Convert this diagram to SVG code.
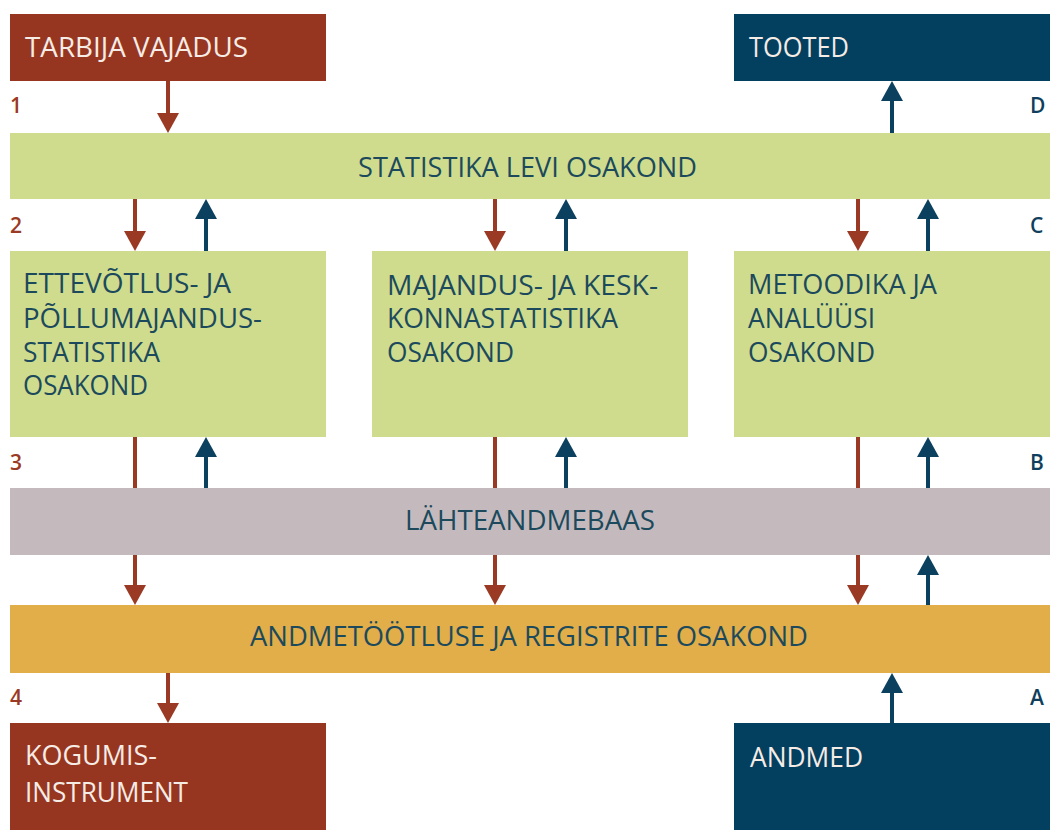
<svg xmlns="http://www.w3.org/2000/svg" width="1050" height="830" viewBox="0 0 1050 830">
<defs>
<style>
.t{font-family:"Open Sans","Liberation Sans",sans-serif;font-size:27px}
.w{fill:#f6ece6}
.d{fill:#1c4a5c}
.num{font-family:"Open Sans","Liberation Sans",sans-serif;font-size:21px;font-weight:600}
.nr{fill:#9a3a24}
.nb{fill:#0f3f5c}
.red{stroke:#9a3a24;stroke-width:4;fill:none}
.blue{stroke:#0c405f;stroke-width:4;fill:none}
</style>
<marker id="ahR" viewBox="0 0 20 22" refX="10" refY="11" markerWidth="20" markerHeight="22" markerUnits="userSpaceOnUse" orient="auto">
<path d="M0,0 L20,11 L0,22 z" fill="#9a3a24"/>
</marker>
<marker id="ahB" viewBox="0 0 20 22" refX="10" refY="11" markerWidth="20" markerHeight="22" markerUnits="userSpaceOnUse" orient="auto">
<path d="M0,0 L20,11 L0,22 z" fill="#0c405f"/>
</marker>
</defs>
<rect width="1050" height="830" fill="#ffffff"/>

<g id="tarbija">
<rect x="10" y="14" width="316" height="67" fill="#973620"/>
<text class="t w" x="25" y="57" textLength="223" lengthAdjust="spacingAndGlyphs">TARBIJA VAJADUS</text>
</g>
<g id="tooted">
<rect x="734" y="14" width="316" height="67" fill="#033f5e"/>
<text class="t w" x="749" y="57" textLength="100" lengthAdjust="spacingAndGlyphs">TOOTED</text>
</g>
<g id="levi">
<rect x="10" y="133" width="1040" height="66" fill="#cfdc8d"/>
<text class="t d" x="358" y="177" textLength="339" lengthAdjust="spacingAndGlyphs">STATISTIKA LEVI OSAKOND</text>
</g>
<g id="ettevotlus">
<rect x="10" y="251" width="316" height="186" fill="#cfdc8d"/>
<text class="t d" x="23" y="293" textLength="208" lengthAdjust="spacingAndGlyphs">ETTEVÕTLUS- JA</text>
<text class="t d" x="23" y="328" textLength="239" lengthAdjust="spacingAndGlyphs">PÕLLUMAJANDUS-</text>
<text class="t d" x="23" y="362" textLength="137" lengthAdjust="spacingAndGlyphs">STATISTIKA</text>
<text class="t d" x="23" y="395" textLength="125" lengthAdjust="spacingAndGlyphs">OSAKOND</text>
</g>
<g id="majandus">
<rect x="372" y="251" width="316" height="186" fill="#cfdc8d"/>
<text class="t d" x="387" y="295" textLength="271" lengthAdjust="spacingAndGlyphs">MAJANDUS- JA KESK-</text>
<text class="t d" x="387" y="328" textLength="231" lengthAdjust="spacingAndGlyphs">KONNASTATISTIKA</text>
<text class="t d" x="387" y="362" textLength="127" lengthAdjust="spacingAndGlyphs">OSAKOND</text>
</g>
<g id="metoodika">
<rect x="734" y="251" width="316" height="186" fill="#cfdc8d"/>
<text class="t d" x="748" y="294" textLength="189" lengthAdjust="spacingAndGlyphs">METOODIKA JA</text>
<text class="t d" x="748" y="328" textLength="127" lengthAdjust="spacingAndGlyphs">ANALÜÜSI</text>
<text class="t d" x="748" y="362" textLength="127" lengthAdjust="spacingAndGlyphs">OSAKOND</text>
</g>
<g id="lahteandmebaas">
<rect x="10" y="488" width="1040" height="67" fill="#c4babe"/>
<text class="t d" x="405" y="530" textLength="250" lengthAdjust="spacingAndGlyphs">LÄHTEANDMEBAAS</text>
</g>
<g id="andmetootlus">
<rect x="10" y="605" width="1040" height="68" fill="#e1ae4a"/>
<text class="t d" x="250" y="646" textLength="558" lengthAdjust="spacingAndGlyphs">ANDMETÖÖTLUSE JA REGISTRITE OSAKOND</text>
</g>
<g id="kogumis">
<rect x="10" y="723" width="316" height="107" fill="#973620"/>
<text class="t w" x="25" y="765" textLength="132" lengthAdjust="spacingAndGlyphs">KOGUMIS-</text>
<text class="t w" x="25" y="802" textLength="163" lengthAdjust="spacingAndGlyphs">INSTRUMENT</text>
</g>
<g id="andmed">
<rect x="734" y="723" width="316" height="107" fill="#033f5e"/>
<text class="t w" x="750" y="767" textLength="113" lengthAdjust="spacingAndGlyphs">ANDMED</text>
</g>

<g id="labels">
<text class="num nr" x="10" y="113">1</text>
<text class="num nr" x="10" y="233">2</text>
<text class="num nr" x="10" y="470">3</text>
<text class="num nr" x="10" y="705">4</text>
<text class="num nb" x="1030" y="113">D</text>
<text class="num nb" x="1030" y="233">C</text>
<text class="num nb" x="1030" y="470">B</text>
<text class="num nb" x="1030" y="705">A</text>
</g>

<g id="connectors">
<line class="red" x1="168" y1="81" x2="168" y2="123" marker-end="url(#ahR)"/>
<line class="blue" x1="892" y1="133" x2="892" y2="91" marker-end="url(#ahB)"/>

<line class="red" x1="135" y1="199" x2="135" y2="241" marker-end="url(#ahR)"/>
<line class="red" x1="495" y1="199" x2="495" y2="241" marker-end="url(#ahR)"/>
<line class="red" x1="858" y1="199" x2="858" y2="241" marker-end="url(#ahR)"/>
<line class="blue" x1="206" y1="251" x2="206" y2="209" marker-end="url(#ahB)"/>
<line class="blue" x1="566" y1="251" x2="566" y2="209" marker-end="url(#ahB)"/>
<line class="blue" x1="928" y1="251" x2="928" y2="209" marker-end="url(#ahB)"/>

<line class="red" x1="135" y1="437" x2="135" y2="488"/>
<line class="red" x1="495" y1="437" x2="495" y2="488"/>
<line class="red" x1="858" y1="437" x2="858" y2="488"/>
<line class="blue" x1="206" y1="488" x2="206" y2="447" marker-end="url(#ahB)"/>
<line class="blue" x1="566" y1="488" x2="566" y2="447" marker-end="url(#ahB)"/>
<line class="blue" x1="928" y1="488" x2="928" y2="447" marker-end="url(#ahB)"/>

<line class="red" x1="135" y1="555" x2="135" y2="595" marker-end="url(#ahR)"/>
<line class="red" x1="495" y1="555" x2="495" y2="595" marker-end="url(#ahR)"/>
<line class="red" x1="858" y1="555" x2="858" y2="595" marker-end="url(#ahR)"/>
<line class="blue" x1="928" y1="605" x2="928" y2="565" marker-end="url(#ahB)"/>

<line class="red" x1="168" y1="673" x2="168" y2="713" marker-end="url(#ahR)"/>
<line class="blue" x1="892" y1="723" x2="892" y2="683" marker-end="url(#ahB)"/>
</g>
</svg>
